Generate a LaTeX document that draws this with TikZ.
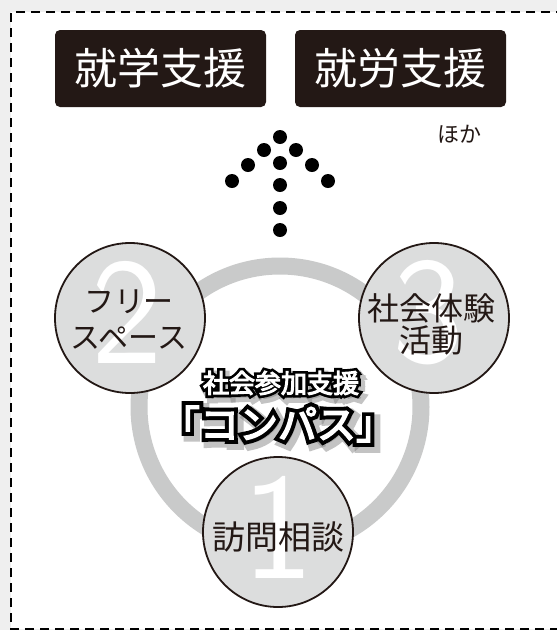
\documentclass[tikz,border=0pt]{standalone}
\usepackage{fontspec}
\usetikzlibrary{calc}
\newfontfamily\jp{Noto Sans CJK JP}
\newfontfamily\jpo{Noto Sans CJK JP}[FakeBold=24]
\newfontfamily\jps{Noto Sans CJK JP}[FakeBold=34]
\newfontfamily\jpw{Noto Sans CJK JP}[FakeBold=4]
\definecolor{ink}{HTML}{231815}
\definecolor{ringgray}{HTML}{C9CACA}
\definecolor{bubblegray}{HTML}{DCDDDD}
\definecolor{bggray}{HTML}{EFEFEF}
\definecolor{shadowgray}{HTML}{7A7A7A}
\tikzset{
  topbox/.style={fill=ink, rounded corners=5pt, minimum width=211pt, minimum height=77pt, inner sep=0pt, text=white, font=\jp\fontsize{43}{43}\selectfont},
  dotnode/.style={circle, fill=black, minimum size=14pt, inner sep=0pt},
  bubble/.style={circle, fill=bubblegray, draw=ink, line width=1.8pt, minimum size=150pt, inner sep=0pt},
  numeral/.style={text=white, inner sep=0pt, font=\sffamily\fontsize{152}{152}\selectfont},
  bubbletext/.style={text=ink, align=center, inner sep=0pt},
  titlea/.style={inner sep=0pt, font=\fontsize{26}{26}\selectfont},
  titleb/.style={inner sep=0pt, font=\fontsize{39}{39}\selectfont},
}
\begin{document}
\begin{tikzpicture}[x=1pt,y=-1pt]
\useasboundingbox (0,0) rectangle (557,630);
\fill[bggray] (0,0) rectangle (557,630);
\fill[white] (11,12) rectangle (580,629);
\draw[black, line width=2pt, dash pattern=on 9pt off 6pt] (580,12) -- (11,12) -- (11,629) -- (580,629);

% top boxes
\node[topbox] (b1) at (160.5,68.5) {就学支援};
\node[topbox] (b2) at (400.5,68.5) {就労支援};
\node[text=ink, inner sep=0pt, font=\jp\fontsize{22}{22}\selectfont] (hoka) at (459,134) {ほか};

% dotted arrow
\node[dotnode] (d1) at (280,137) {};
\node[dotnode] (d2) at (264,150) {};
\node[dotnode] (d3) at (296,150) {};
\node[dotnode] (d4) at (248,165) {};
\node[dotnode] (d5) at (280,163) {};
\node[dotnode] (d6) at (312,165) {};
\node[dotnode] (d7) at (232,181) {};
\node[dotnode] (d8) at (328,181) {};
\node[dotnode] (d9) at (280,185) {};
\node[dotnode] (d10) at (280,208) {};
\node[dotnode] (d11) at (280,230) {};

% ring
\draw[ringgray, line width=17pt] (280,407) circle[radius=141pt];

% bubbles
\node[bubble] (c2) at (130,318) {};
\node[bubble] (c3) at (434,318) {};
\node[bubble] (c1) at (278,532) {};
\node[numeral] (n1) at (278,527) {1};
\node[numeral] (n2) at (127,312) {2};
\node[numeral] (n3) at (428,313) {3};
\node[bubbletext, font=\jp\fontsize{30}{36}\selectfont] (t2) at (129,320) {フリー\\スペース};
\node[bubbletext, font=\jp\fontsize{32}{32}\selectfont] (t3) at (431,324) {社会体験\\活動};
\node[bubbletext, font=\jp\fontsize{33}{33}\selectfont] (t1) at (278,537) {訪問相談};

% title: shadow, black outline, white fill
\node[titlea, text=shadowgray, opacity=0.45] (sa) at (284,387) {\jps 社会参加支援};
\node[titleb, text=shadowgray, opacity=0.45] (sb) at (282,428) {\jps 「コンパス」};
\node[titlea, text=black] (oa) at (281,383) {\jpo 社会参加支援};
\node[titleb, text=black] (ob) at (278,424) {\jpo 「コンパス」};
\node[titlea, text=white] (title1) at (281,383) {\jpw 社会参加支援};
\node[titleb, text=white] (title2) at (278,424) {\jpw 「コンパス」};
\end{tikzpicture}
\end{document}
